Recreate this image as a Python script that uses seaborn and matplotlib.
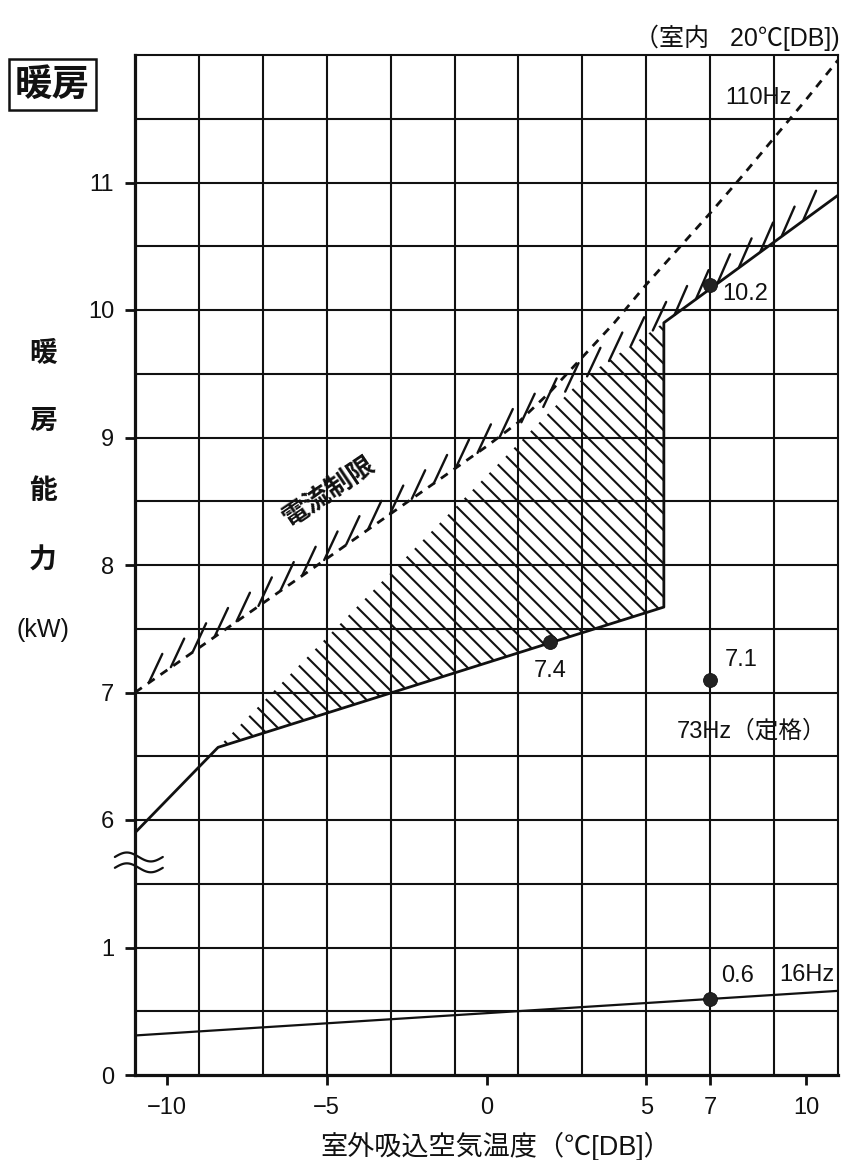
import numpy as np
import matplotlib
matplotlib.use("Agg")
import matplotlib.pyplot as plt
import matplotlib.patheffects as pe
import seaborn as sns

# ---------------- data (kW values, outdoor temperature in degC) ----------------
temp_max = [-11.0, -8.4, 5.55, 5.55, 11.0]          # solid max-capacity line
cap_max = [5.90, 6.57, 7.67, 9.90, 10.90]
temp_110 = [-11, -5, 0, 1, 2, 3, 4, 5, 6, 7, 8, 9, 10, 11]   # 110Hz dashed
cap_110 = [7.0, 8.05, 8.93, 9.12, 9.36, 9.63, 9.90, 10.20, 10.48, 10.76, 11.05, 11.35, 11.65, 11.96]
temp_16 = [-11, 11]                                  # 16Hz line
cap_16 = [0.31, 0.66]
temp_lim = [-10.9, 5.55, 10.25]                      # current-limit line (ticks)
cap_lim = [7.02, 9.90, 10.77]
hatch_x = [-8.4, 5.55, 5.55, 3.0, -8.4]              # hatched region
hatch_y = [6.57, 7.67, 9.90, 9.46, 6.57]
pt_x = [2, 7, 7, 7]
pt_y = [7.4, 7.1, 10.2, 0.6]
pt_lbl = ["7.4", "7.1", "10.2", "0.6"]
ytick_vals = [0, 1, 6, 7, 8, 9, 10, 11]
xtick_vals = [-10, -5, 0, 5, 7, 10]
grid_x = [-9, -7, -5, -3, -1, 1, 3, 5, 7, 9]


def brk(v):
    """broken y axis: values >= 3 kW are shifted down by 4."""
    v = np.asarray(v, dtype=float)
    return np.where(v >= 3, v - 4, v)


sns.set_style("white")
plt.rcParams["font.family"] = ["Liberation Sans", "Noto Sans CJK JP", "DejaVu Sans"]
plt.rcParams["hatch.linewidth"] = 1.5
JP = ["Noto Sans CJK JP", "DejaVu Sans"]

fig = plt.figure(figsize=(8.44, 11.6), dpi=100)
ax = fig.add_axes([135 / 844, 1 - 1075 / 1160, (838 - 135) / 844, (1075 - 55) / 1160])
ax.set_xlim(-11, 11)
ax.set_ylim(0, 8)

LC = "#111111"
# grid
ax.vlines(grid_x, 0, 8, color=LC, lw=1.5, zorder=1)
ax.hlines(np.arange(0.5, 8, 0.5), -11, 11, color=LC, lw=1.5, zorder=1)

# hatched region
ax.fill(hatch_x, brk(hatch_y), facecolor="none", edgecolor=LC,
        hatch="\\\\", linewidth=0, zorder=2)

sns.lineplot(x=temp_max, y=brk(cap_max), ax=ax, color=LC, lw=2.0,
             sort=False, estimator=None, zorder=4)
sns.lineplot(x=temp_110, y=brk(cap_110), ax=ax, color=LC, lw=2.0,
             sort=False, estimator=None, linestyle=(0, (3.0, 2.6)), zorder=4)
sns.lineplot(x=temp_16, y=brk(cap_16), ax=ax, color=LC, lw=1.6,
             sort=False, estimator=None, zorder=4)
sns.lineplot(x=temp_lim, y=brk(cap_lim), ax=ax, color=LC, lw=1.7,
             sort=False, estimator=None, zorder=4,
             path_effects=[pe.TickedStroke(spacing=18.9, angle=30, length=1.2)])

sns.scatterplot(x=pt_x, y=brk(pt_y), ax=ax, color="#222222", s=100,
                edgecolor="#111111", linewidth=0.6, zorder=6)

offsets = [(0, -21.5, "center"), (10.5, 14.5, "left"), (8.5, -6.5, "left"), (8, 16, "left")]
for x, y, t, (dx, dy, ha) in zip(pt_x, pt_y, pt_lbl, offsets):
    ax.annotate(t, (x, brk(y)), xytext=(dx, dy), textcoords="offset points",
                ha=ha, va="center", fontsize=17, color=LC, zorder=7)

ax.text(8.5, 7.66, "110Hz", fontsize=17, ha="center", va="center", color=LC)
ax.text(8.3, 2.70, "73Hz（定格）", fontsize=17, ha="center", va="center", color=LC)
ax.text(10.03, 0.785, "16Hz", fontsize=17, ha="center", va="center", color=LC)
ax.text(-4.93, 4.58, "電流制限", fontsize=19, ha="center", va="center",
        rotation=34, rotation_mode="anchor", color=LC, fontweight="bold", family=JP)

# axis break symbol (two waves)
tw = np.linspace(0, 1, 60)
for c in (1.71, 1.625):
    ax.plot(-11.63 + 1.5 * tw, c + 0.035 * np.sin(2 * np.pi * tw), color=LC,
            lw=1.6, clip_on=False, zorder=8)

# ticks
ax.set_xticks(xtick_vals)
ax.set_xticklabels([f"\u2212{abs(v)}" if v < 0 else str(v) for v in xtick_vals])
ax.set_yticks(brk(ytick_vals))
ax.set_yticklabels([str(v) for v in ytick_vals])
ax.tick_params(axis="both", which="major", direction="out", length=7, width=2,
               labelsize=17, color=LC, labelcolor=LC, left=True, bottom=True)
ax.tick_params(axis="y", pad=8)
ax.tick_params(axis="x", pad=9)

for s in ["left", "bottom"]:
    ax.spines[s].set_linewidth(2.3)
    ax.spines[s].set_color(LC)
for s in ["top", "right"]:
    ax.spines[s].set_linewidth(1.5)
    ax.spines[s].set_color(LC)
ax.set_xlabel("")
ax.set_ylabel("")

# outside texts
fig.text(840 / 844, 0.967, "（室内   20℃[DB])", fontsize=18, ha="right", va="center", color=LC)
fig.text(52 / 844, 1 - 84 / 1160, "暖房", fontsize=27, ha="center", va="center", color=LC,
         family=JP, fontweight="bold",
         bbox=dict(boxstyle="square,pad=0.16", facecolor="white", edgecolor=LC, linewidth=1.8))
for ch, yp in zip(["暖", "房", "能", "力"], [353, 421, 491, 561]):
    fig.text(43 / 844, 1 - yp / 1160, ch, fontsize=20, ha="center", va="center",
             color=LC, fontweight="bold", family=JP)
fig.text(43 / 844, 1 - 630 / 1160, "(kW)", fontsize=18, ha="center", va="center", color=LC)
fig.text(496 / 844, 1 - 1146 / 1160, "室外吸込空気温度（℃[DB]）", fontsize=19.5,
         ha="center", va="center", color=LC)

fig.savefig("out.png", dpi=100)
